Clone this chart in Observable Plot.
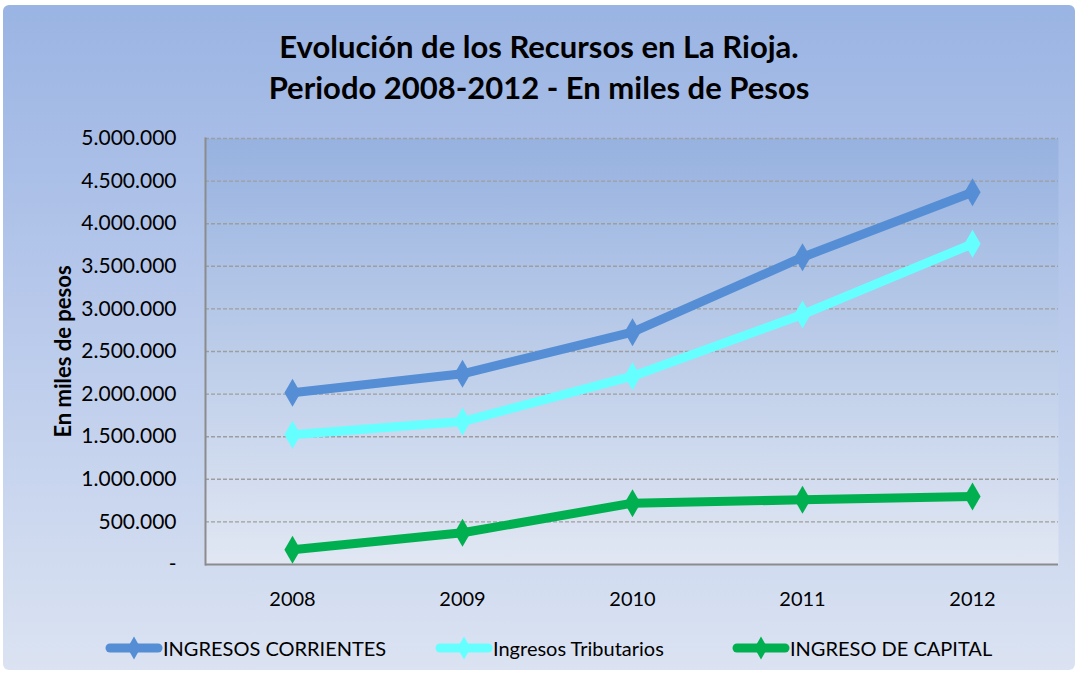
<!DOCTYPE html>
<html>
<head>
<meta charset="utf-8">
<script src="https://cdn.jsdelivr.net/npm/d3@7"></script>
<script src="https://cdn.jsdelivr.net/npm/@observablehq/plot@0.6"></script>
<style>
  html, body { margin: 0; padding: 0; background: #fff; }
  body { width: 1082px; height: 677px; overflow: hidden; font-family: Lato, "Noto Sans", sans-serif; }
  #chart {
    position: absolute; left: 3px; top: 5px; width: 1072px; height: 665px;
    background: linear-gradient(to bottom, #9ab4e3 0%, #b4c6ea 40%, #dbe3f2 100%);
    border-radius: 6px;
  }
  #title {
    position: absolute; left: 0; top: 0; width: 1072px; height: 128px;
    text-align: center; font-weight: bold; font-size: 31px; color: #000;
  }
  #title div { position: absolute; left: 0; width: 100%; line-height: 36px; }
  #plot { position: absolute; left: 0; top: 128px; }
  #legend { position: absolute; left: 0; top: 623px; width: 1072px; height: 40px; }
  .item { position: absolute; top: 0; height: 40px; display: flex; align-items: center; font-size: 20px; color: #000; }
  .item svg { display: block; }
  g[aria-label="y-axis label"] text { font-weight: bold; font-size: 22px; }
</style>
</head>
<body>
<div id="chart">
  <div id="title"><div style="top:23px">Evolución de los Recursos en La Rioja.</div><div style="top:64px">Periodo 2008-2012 - En miles de Pesos</div></div>
  <div id="plot"></div>
  <div id="legend"></div>
</div>
<script>
const years = ["2008", "2009", "2010", "2011", "2012"];
const seriesNames = ["INGRESOS CORRIENTES", "Ingresos Tributarios", "INGRESO DE CAPITAL"];
const seriesColors = ["#558ed5", "#66ffff", "#00b050"];
const corrientes = [2015000, 2238000, 2727000, 3607000, 4370000];
const tributarios = [1522000, 1678000, 2210000, 2934000, 3764000];
const capital = [172000, 372000, 720000, 759000, 798000];
const yTicks = [0, 500000, 1000000, 1500000, 2000000, 2500000, 3000000, 3500000, 4000000, 4500000, 5000000];
const legendLefts = [102, 432, 729];

const seriesValues = [corrientes, tributarios, capital];
const data = [];
seriesNames.forEach((name, i) => {
  years.forEach((yr, j) => data.push({series: name, year: yr, value: seriesValues[i][j]}));
});

const loc = d3.formatLocale({decimal: ",", thousands: ".", grouping: [3], currency: ["$", ""]});
const fmt = loc.format(",");
const tickFormat = d => d === 0 ? "-" : fmt(d);

const svg = Plot.plot({
  width: 1072,
  height: 481,
  marginLeft: 202,
  marginRight: 17,
  marginTop: 5,
  marginBottom: 50,
  style: {background: "transparent", fontFamily: "Lato, 'Noto Sans', sans-serif", fontSize: "21px", color: "#000", overflow: "visible"},
  x: {type: "point", domain: years, padding: 0.5, label: null},
  y: {domain: [0, 5000000], label: null},
  color: {domain: seriesNames, range: seriesColors},
  marks: [
    Plot.frame({fill: "url(#plotGrad)", stroke: null}),
    Plot.ruleY(yTicks.filter(d => d > 0), {stroke: "#9e9e9e", strokeDasharray: "4,2", strokeWidth: 1.4}),
    Plot.frame({anchor: "left", stroke: "#8c8c8c", strokeWidth: 2}),
    Plot.ruleY([0], {stroke: "#8c8c8c", strokeWidth: 2}),
    Plot.axisY({ticks: yTicks, tickFormat, tickSize: 0, tickPadding: 29, fontSize: 21, label: "En miles de pesos", labelAnchor: "center", labelArrow: "none", labelOffset: 150}),
    Plot.axisX({tickSize: 0, tickPadding: 27, fontSize: 20, label: null}),
    Plot.line(data, {x: "year", y: "value", z: "series", stroke: "series", strokeWidth: 9, strokeLinejoin: "round"}),
    Plot.dot(data, {x: "year", y: "value", fill: "series", symbol: "diamond", r: 8.5})
  ]
});

d3.select(svg).insert("defs", ":first-child").html(
  '<linearGradient id="plotGrad" x1="0" y1="0" x2="0" y2="1">' +
  '<stop offset="0%" stop-color="#97b2e0"/>' +
  '<stop offset="50%" stop-color="#bccde9"/>' +
  '<stop offset="100%" stop-color="#e1e7f3"/>' +
  '</linearGradient>'
);
document.getElementById("plot").appendChild(svg);

const legend = d3.select("#legend");
seriesNames.forEach((name, i) => {
  const item = legend.append("div").attr("class", "item").style("left", legendLefts[i] + "px");
  const s = item.append("svg").attr("width", 58).attr("height", 24);
  s.append("line").attr("x1", 5).attr("x2", 53).attr("y1", 12).attr("y2", 12)
    .attr("stroke", seriesColors[i]).attr("stroke-width", 9).attr("stroke-linecap", "round");
  s.append("path").attr("transform", "translate(29,12)")
    .attr("d", d3.symbol(d3.symbolDiamond, 150)()).attr("fill", seriesColors[i]);
  item.append("span").text(name);
});
</script>
</body>
</html>
